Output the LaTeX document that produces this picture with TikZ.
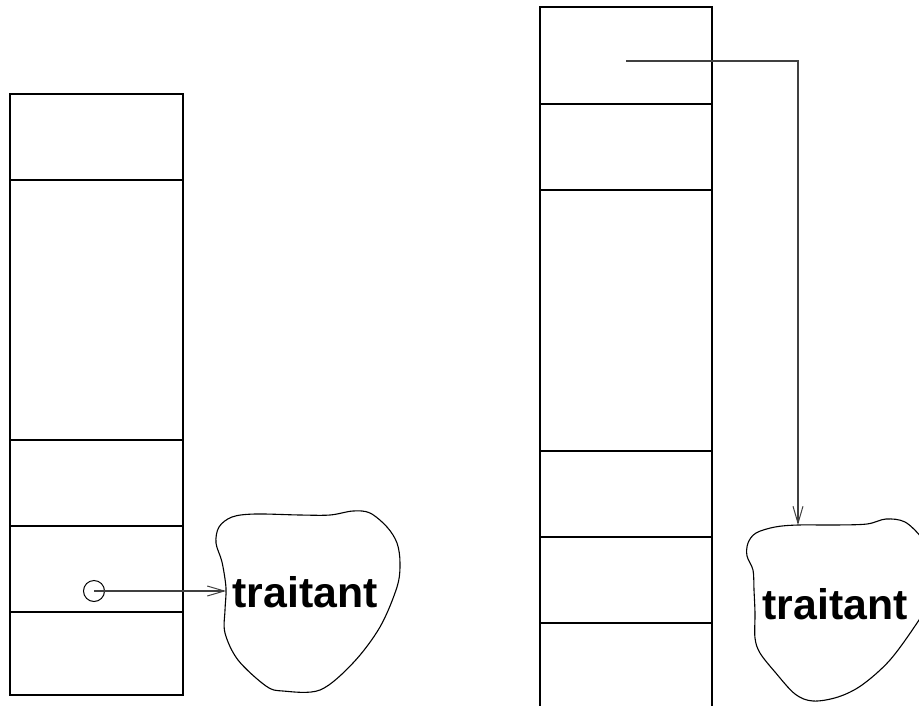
\documentclass[tikz,border=0pt]{standalone}
\usepackage{fontspec}
\newfontfamily\blobfont{Liberation Sans}
\usetikzlibrary{arrows.meta}
\tikzset{
  ln/.style={line width=1.1pt, draw=black},
  conn/.style={line width=1.1pt, draw=black!75, -{Straight Barb[length=17pt,width=10pt,line width=1pt]}},
  lbl/.style={font=\blobfont\bfseries\fontsize{42.8}{50}\selectfont, inner sep=0pt},
  blobpath/.style={line width=1.1pt, draw=black}
}
\begin{document}
\begin{tikzpicture}[x=1pt,y=-1pt]
\useasboundingbox (0,0) rectangle (919,705);
\clip (0,0) rectangle (919,705);
% left column
\draw[ln] (10,94) rectangle (183,695);
\foreach \yy in {180,440,526,612} \draw[ln] (10,\yy) -- (183,\yy);
% right column (open at bottom)
\draw[ln] (540,720) -- (540,7) -- (712,7) -- (712,720);
\foreach \yy in {104,190,451,537,623} \draw[ln] (540,\yy) -- (712,\yy);
% blob 1
\draw[blobpath] plot[smooth cycle, tension=0.55] coordinates {
 (255,514) (300,515) (330,515) (353,511) (370,513) (387,527) (397,543) (400,563)
 (397,587) (380,627) (353,663) (320,690) (283,691) (266,686) (238,660) (225,633)
 (225,610) (226,588) (222,562) (216,543) (219,527) (232,517)};
% blob 2
\draw[blobpath] plot[smooth cycle, tension=0.55] coordinates {
 (775,527) (798,525) (835,525) (867,524) (886,519) (905,522) (922,538) (932,555)
 (936,575) (930,600) (917,623) (890,660) (862,685) (838,697) (813,701) (795,694)
 (775,672) (760,653) (755,638) (755,613) (754,590) (753,570) (747,556) (748,543) (756,533)};
\node[lbl] (t1) at (305,592) {traitant};
\node[lbl] (t2) at (835,604) {traitant};
% pointer circle and arrows
\node[circle, draw, line width=1pt, minimum size=21pt, inner sep=0pt] (c1) at (94,591) {};
\coordinate (e1) at (226,591);
\draw[conn] (c1.center) -- (e1);
\coordinate (s2) at (626,61);
\coordinate (e2) at (798,525);
\draw[conn] (s2) -| (e2);
\end{tikzpicture}
\end{document}
